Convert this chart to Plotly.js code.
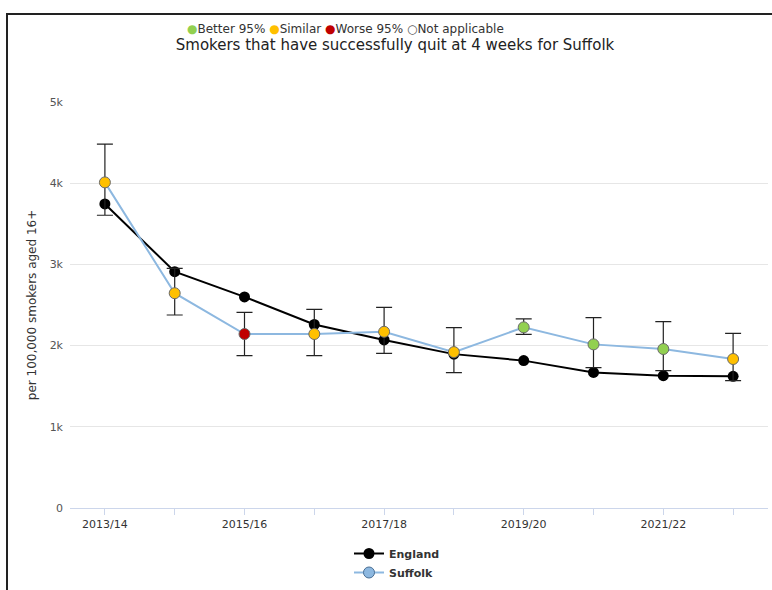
<!DOCTYPE html>
<html>
<head>
<meta charset="utf-8">
<script src="https://cdn.plot.ly/plotly-3.0.1.min.js"></script>
<style>
  html, body { margin:0; padding:0; background:#fff; }
  #wrap { position:relative; width:772px; height:590px; overflow:hidden; }
  #chart { width:772px; height:590px; }
  #frame { position:absolute; left:6px; top:13px; width:800px; height:600px;
           border-top:2px solid #222; border-left:2px solid #222; pointer-events:none; }
</style>
</head>
<body>
<div id="wrap"><div id="chart"></div><div id="frame"></div></div>
<script>
const periods = ['2013/14','2014/15','2015/16','2016/17','2017/18','2018/19','2019/20','2020/21','2021/22','2022/23'];
const englandValues = [3745, 2910, 2600, 2260, 2070, 1895, 1815, 1670, 1630, 1622];
const suffolkValues = [4010, 2645, 2143, 2143, 2170, 1920, 2225, 2015, 1958, 1835];
const suffolkUpper  = [4480, 2950, 2410, 2447, 2470, 2222, 2328, 2344, 2295, 2151];
const suffolkLower  = [3605, 2377, 1876, 1876, 1905, 1666, 2139, 1728, 1691, 1568];
const suffolkSignif = ['Similar','Similar','Worse','Similar','Similar','Similar','Better','Better','Better','Similar'];
const yTickVals = [0, 1000, 2000, 3000, 4000, 5000];
const yTickText = ['0', '1k', '2k', '3k', '4k', '5k'];
const xTickText = ['2013/14','','2015/16','','2017/18','','2019/20','','2021/22',''];

const signifColor = {Better:'#92d050', Similar:'#ffc000', Worse:'#c00000', 'Not applicable':'#ffffff'};

const font = '"DejaVu Sans", Verdana, sans-serif';

const traces = [
  {
    x: periods, y: englandValues, name: 'England', type: 'scatter', mode: 'lines+markers',
    line: {color:'#000000', width:2},
    marker: {color:'#000000', size:11},
    hoverinfo: 'x+y+name'
  },
  {
    x: periods, y: suffolkValues, name: 'Suffolk', type: 'scatter', mode: 'lines+markers',
    showlegend: false,
    line: {color:'#8db8e0', width:2},
    marker: {color: suffolkSignif.map(s => signifColor[s]), size:11, line:{color:'#6b6b6b', width:1}},
    error_y: {
      type:'data', symmetric:false,
      array: suffolkUpper.map((u,i) => u - suffolkValues[i]),
      arrayminus: suffolkValues.map((v,i) => v - suffolkLower[i]),
      color:'#222222', thickness:1.2, width:8
    }
  },
  {
    x: [null], y: [null], name: 'Suffolk', type: 'scatter', mode: 'lines+markers',
    line: {color:'#8db8e0', width:2},
    marker: {color:'#8db8e0', size:11, line:{color:'#4a6f94', width:1}},
    hoverinfo: 'skip'
  }
];

const plotTop = 102, plotBottom = 508, plotLeft = 70, plotRight = 768;
const ph = plotBottom - plotTop, pw = plotRight - plotLeft;
const py = px => (plotBottom - px) / ph;
const pxX = px => (px - plotLeft) / pw;

const sig = (c, label, hollow) =>
  (hollow ? '<span style="color:#555">○</span>' : '<span style="color:' + c + '">●</span>') + label;

const layout = {
  width: 772, height: 590,
  margin: {l: plotLeft, r: 772 - plotRight, t: plotTop, b: 590 - plotBottom, autoexpand: false},
  paper_bgcolor: '#ffffff', plot_bgcolor: '#ffffff',
  font: {family: font, color: '#333333', size: 11},
  title: {
    text: 'Smokers that have successfully quit at 4 weeks for Suffolk',
    font: {family: font, size: 15, color: '#222222'},
    xref: 'container', yref: 'container', x: 395/772, xanchor: 'center',
    y: 1 - 45/590, yanchor: 'middle'
  },
  xaxis: {
    type: 'category', range: [-0.5, 9.5], automargin: false,
    tickvals: periods, ticktext: xTickText,
    ticks: 'outside', ticklen: 6, tickcolor: '#ccd6eb',
    showline: true, linecolor: '#ccd6eb', linewidth: 1,
    showgrid: false, zeroline: false,
    tickfont: {family: font, size: 11, color: '#333333'}
  },
  yaxis: {
    range: [0, 5000], tickvals: yTickVals, ticktext: yTickText, automargin: false,
    showgrid: true, gridcolor: '#e6e6e6', gridwidth: 1,
    zeroline: false, showline: false, ticks: '',
    ticklabelstandoff: 6,
    tickfont: {family: font, size: 11, color: '#555555'},
    title: {text: 'per 100,000 smokers aged 16+', font: {family: font, size: 12, color: '#333333'}, standoff: 10}
  },
  showlegend: true,
  legend: {
    orientation: 'v',
    x: pxX(397), xanchor: 'center', y: py(539), yanchor: 'top',
    font: {family: font, size: 11, color: '#333333', weight: 'bold'},
    itemwidth: 30, bgcolor: 'rgba(0,0,0,0)', tracegroupgap: 0
  },
  annotations: [
    {
      xref: 'paper', yref: 'paper', x: pxX(345), y: py(29), xanchor: 'center', yanchor: 'middle',
      showarrow: false,
      text: sig(signifColor.Better, 'Better 95%') + ' ' + sig(signifColor.Similar, 'Similar') + ' ' +
            sig(signifColor.Worse, 'Worse 95%') + ' ' + sig('#fff', 'Not applicable', true),
      font: {family: font, size: 12, color: '#333333'}
    }
  ]
};

Plotly.newPlot('chart', traces, layout, {displayModeBar: false, staticPlot: true});
</script>
</body>
</html>
